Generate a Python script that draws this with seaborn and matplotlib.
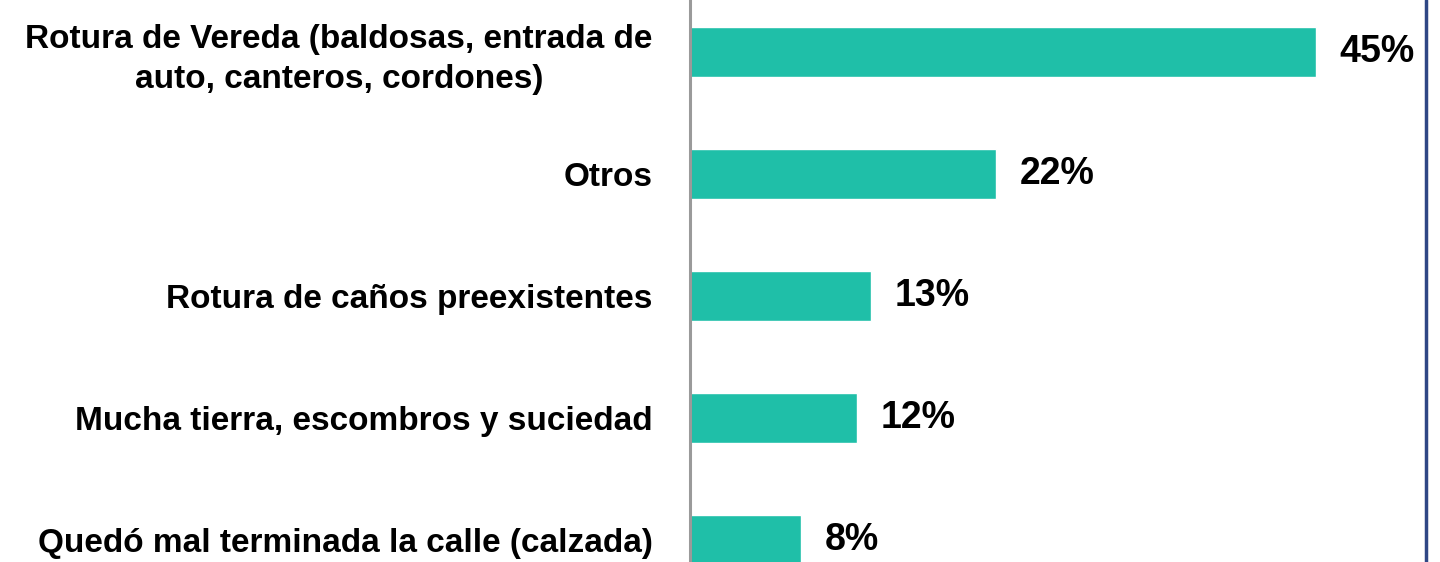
"""Horizontal bar chart: causas de reclamos (porcentaje)."""

import matplotlib

matplotlib.use("Agg")

import matplotlib.pyplot as plt
import pandas as pd
import seaborn as sns
from matplotlib.lines import Line2D

categories = [
    "Rotura de Vereda (baldosas, entrada de\nauto, canteros, cordones)",
    "Otros",
    "Rotura de caños preexistentes",
    "Mucha tierra, escombros y suciedad",
    "Quedó mal terminada la calle (calzada)",
]
percentages = [45, 22, 13, 12, 8]

BAR_COLOR = "#1fbfa8"
AXIS_COLOR = "#9a9a9a"
FRAME_BLUE = "#2f4785"

sns.set_theme(style="white")
plt.rcParams["font.family"] = ["Liberation Sans", "DejaVu Sans"]

df = pd.DataFrame({"Causa": categories, "Porcentaje": percentages})

fig = plt.figure(figsize=(14.4, 5.62), dpi=100)
ax = fig.add_axes([690 / 1440, 0, (1440 - 690) / 1440, 1])

sns.barplot(data=df, y="Causa", x="Porcentaje", orient="h", color=BAR_COLOR,
            saturation=1, width=0.41, ax=ax)

ax.set_xlim(0, 53.9)
ax.set_ylim(4.18, -0.426)
ax.set_xlabel("")
ax.set_ylabel("")
ax.set_xticks([])

for side in ["top", "right", "bottom"]:
    ax.spines[side].set_visible(False)
ax.spines["left"].set_color(AXIS_COLOR)
ax.spines["left"].set_linewidth(2.2)

ax.tick_params(axis="y", length=0, pad=27)
for label in ax.get_yticklabels():
    label.set_fontsize(24)
    label.set_fontweight("bold")
    label.set_color("black")
    label.set_multialignment("center")
    label.set_linespacing(1.35)

ax.bar_label(ax.containers[0], labels=[f"{v}%" for v in percentages],
             padding=17, fontsize=27, fontweight="bold", color="black")

# slide frame edge on the right
fig.add_artist(Line2D([1426 / 1440, 1426 / 1440], [0, 1], color=FRAME_BLUE,
                      linewidth=2.5, transform=fig.transFigure))

fig.savefig("out.png", dpi=100)
plt.close(fig)
